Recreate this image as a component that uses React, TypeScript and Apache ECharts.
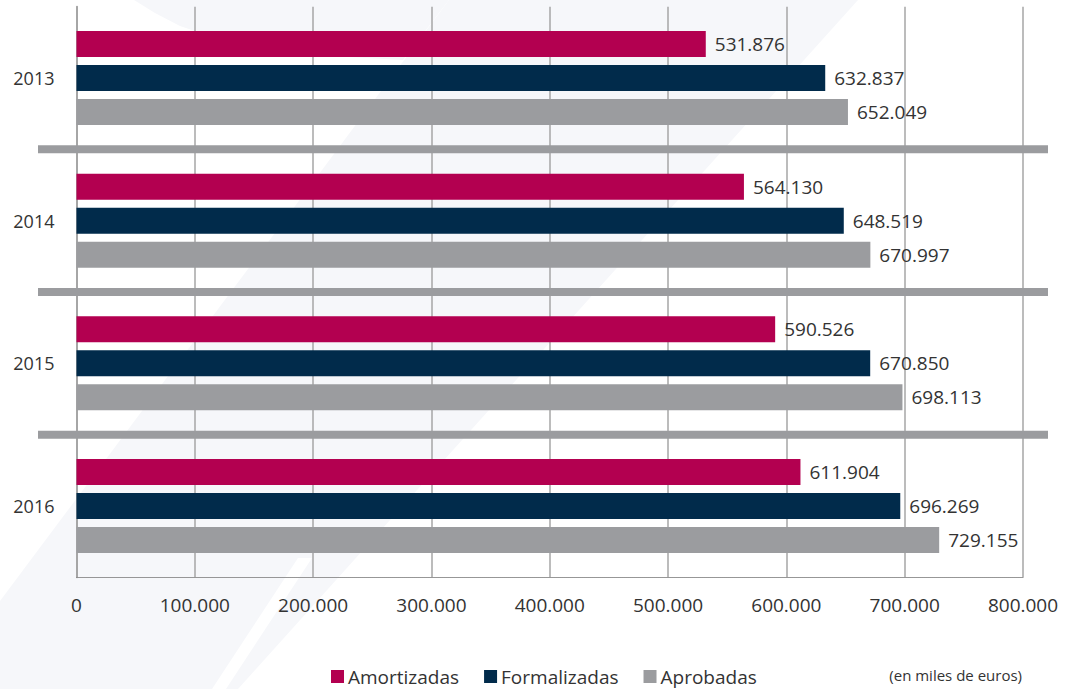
import React, { useEffect, useRef } from "react";
import * as echarts from "echarts";

const years = ["2013", "2014", "2015", "2016"];
const amortizadas = [531876, 564130, 590526, 611904];
const formalizadas = [632837, 648519, 670850, 696269];
const aprobadas = [652049, 670997, 698113, 729155];
const xMin = 0;
const xMax = 800000;
const xStep = 100000;
const seriesNames = ["Amortizadas", "Formalizadas", "Aprobadas"];
const seriesColors = ["#b30050", "#012b4b", "#9b9c9f"];
const unitNote = "(en miles de euros)";

const FONT = "'Open Sans', 'Noto Sans', sans-serif";
const TEXT = "#333333";

const fmt = (n: number) =>
  String(Math.round(n)).replace(/\B(?=(\d{3})+(?!\d))/g, ".");

export default function App() {
  const ref = useRef<HTMLDivElement>(null);

  useEffect(() => {
    if (!ref.current) return;
    const chart = echarts.init(ref.current, undefined, { renderer: "svg" });

    const dataSets = [amortizadas, formalizadas, aprobadas];
    const series = seriesNames.map((name, i) => ({
      name,
      type: "bar",
      data: dataSets[i],
      barWidth: 26,
      barGap: "30.8%",
      itemStyle: { color: seriesColors[i] },
      label: {
        show: true,
        position: "right",
        distance: 9,
        fontSize: 19,
        fontFamily: FONT,
        color: TEXT,
        formatter: (p: any) => fmt(p.value),
      },
    }));

    chart.setOption({
      animation: false,
      backgroundColor: "#ffffff",
      grid: { left: 76.5, right: 51, top: 6.7, bottom: 111.7, containLabel: false },
      legend: {
        data: seriesNames,
        left: 331,
        top: 667,
        icon: "rect",
        itemWidth: 13,
        itemHeight: 13,
        itemGap: 25,
        padding: 0,
        textStyle: { fontSize: 19, fontFamily: FONT, color: TEXT, padding: [0, 0, 0, -1] },
      },
      xAxis: {
        type: "value",
        min: xMin,
        max: xMax,
        interval: xStep,
        axisLine: { show: true, lineStyle: { color: "#8c8c8c", type: "dotted", width: 1 } },
        axisTick: { show: false },
        splitLine: { show: true, lineStyle: { color: "#a6a6a6", width: 1.5 } },
        axisLabel: {
          fontSize: 19,
          fontFamily: FONT,
          color: TEXT,
          margin: 18,
          formatter: (v: number) => fmt(v),
        },
      },
      yAxis: {
        type: "category",
        data: years,
        inverse: true,
        axisLine: { show: true, lineStyle: { color: "#a6a6a6", width: 2 } },
        axisTick: { show: false },
        splitLine: { show: false },
        axisLabel: { fontSize: 18, fontFamily: FONT, color: TEXT, margin: 22 },
      },
      series,
    });

    // separators between categories (computed from the category axis)
    const centers = years.map((y) => chart.convertToPixel({ yAxisIndex: 0 }, y) as number);
    const separators: any[] = [];
    for (let i = 0; i < centers.length - 1; i++) {
      const yb = (centers[i] + centers[i + 1]) / 2;
      separators.push({
        type: "rect",
        z: 5,
        shape: { x: 38, y: yb - 4, width: 1010, height: 8 },
        style: { fill: "#9b9c9f" },
      });
    }

    const wm = "#f6f7fa";
    const watermark = [
      {
        type: "polygon",
        z: -10,
        silent: true,
        shape: { points: [[449, 0], [858, 0], [238, 689], [0, 689], [0, 601]] },
        style: { fill: wm },
      },
      {
        type: "polygon",
        z: -10,
        silent: true,
        shape: {
          points: [[134, 0], [449, 0], [403, 60], [330, 56], [262, 47], [210, 36], [180, 26], [155, 13]],
        },
        style: { fill: wm },
      },
      {
        type: "polygon",
        z: -9,
        silent: true,
        shape: { points: [[298, 558], [312, 558], [226, 689], [212, 689]] },
        style: { fill: "#ffffff" },
      },
    ];

    chart.setOption({
      graphic: [
        ...watermark,
        ...separators,
        {
          type: "text",
          z: 5,
          x: 1022,
          y: 675,
          style: {
            text: unitNote,
            fontSize: 15,
            fontFamily: FONT,
            fill: TEXT,
            textAlign: "right",
            textVerticalAlign: "middle",
          },
        },
      ],
    });

    return () => chart.dispose();
  }, []);

  return (
    <div
      ref={ref}
      style={{ position: "fixed", left: 0, top: 0, width: 1074, height: 689 }}
    />
  );
}
